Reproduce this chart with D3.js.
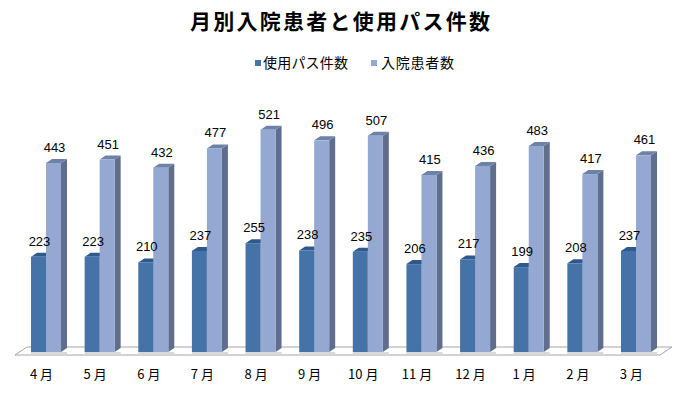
<!DOCTYPE html>
<html><head><meta charset="utf-8">
<script src="https://cdn.jsdelivr.net/npm/d3@7"></script>
<style>body{margin:0;background:#fff}svg{display:block}</style>
</head><body>
<svg id="c" width="682" height="393"></svg>
<script>
const categories = ["4月","5月","6月","7月","8月","9月","10月","11月","12月","1月","2月","3月"];
const seriesNames = ["使用パス件数","入院患者数"];
const pathCounts = [223,223,210,237,255,238,235,206,217,199,208,237];
const patientCounts = [443,451,432,477,521,496,507,415,436,483,417,461];
const title = "月別入院患者と使用パス件数";

const colors = {
  "使用パス件数": {front:"#4572a7", top:"#2f588b", side:"#34567f"},
  "入院患者数": {front:"#94a8d2", top:"#6e81a6", side:"#5f6e8c"}
};
const dx = 6, dy = -4;
const font = "'Noto Sans CJK JP', 'Liberation Sans', sans-serif";
const numFont = "'Liberation Sans', Arial, sans-serif";

const svg = d3.select("#c");
const x = d3.scaleBand().domain(categories).range([17, 665]).paddingInner(0.4403).paddingOuter(0.261);
const xs = d3.scaleBand().domain(seriesNames).range([0, x.bandwidth()]);
const y = d3.scaleLinear().domain([0, 600]).range([352, 96]);

// title
svg.append("text").attr("x", 190).attr("y", 29).attr("textLength", 300).attr("lengthAdjust", "spacing")
  .style("font-family", font).style("font-size", "21px").style("font-weight", "bold").attr("fill", "#000")
  .text(title);

// legend
const leg = [{n: seriesNames[0], x: 255, tx: 263, w: 85}, {n: seriesNames[1], x: 371, tx: 381, w: 73}];
leg.forEach(l => {
  svg.append("rect").attr("x", l.x).attr("y", 60).attr("width", 6).attr("height", 6).attr("fill", colors[l.n].front);
  svg.append("text").attr("x", l.tx).attr("y", 67.5).attr("textLength", l.w).attr("lengthAdjust", "spacing")
    .style("font-family", font).style("font-size", "14px").attr("fill", "#000").text(l.n);
});

// floor
const fx0 = 15, fx1 = 660, fy = 355;
svg.append("polygon")
  .attr("points", [[fx0, fy], [fx1, fy], [fx1 + 12, fy - 8], [fx0 + 12, fy - 8]].map(p => p.join(",")).join(" "))
  .attr("fill", "#fff").attr("stroke", "#a6a6a6").attr("stroke-width", 1);

const data = categories.map((c, i) => ({c, vals: [
  {s: seriesNames[0], v: pathCounts[i]},
  {s: seriesNames[1], v: patientCounts[i]}
]}));

const g = svg.append("g");
data.forEach(d => {
  // light floor shadow strip under the pair
  g.append("rect").attr("x", x(d.c)).attr("y", y(0)).attr("width", x.bandwidth() + dx).attr("height", 2.5).attr("fill", "#d9d9d9");
  d.vals.forEach(b => {
    const x0 = x(d.c) + xs(b.s), w = xs.bandwidth(), t = y(b.v), bot = y(0);
    const col = colors[b.s];
    g.append("polygon").attr("points", [[x0 + w, t], [x0 + w + dx, t + dy], [x0 + w + dx, bot + dy], [x0 + w, bot]].map(p => p.join(",")).join(" "))
      .attr("fill", col.side);
    g.append("polygon").attr("points", [[x0, t], [x0 + w, t], [x0 + w + dx, t + dy], [x0 + dx, t + dy]].map(p => p.join(",")).join(" "))
      .attr("fill", col.top);
    g.append("rect").attr("x", x0).attr("y", t).attr("width", w).attr("height", bot - t).attr("fill", col.front);
  });
});
// value labels
data.forEach(d => {
  d.vals.forEach(b => {
    const cx = x(d.c) + xs(b.s) + xs.bandwidth() / 2 + 1;
    svg.append("text").attr("x", cx).attr("y", y(b.v) - 11).attr("text-anchor", "middle")
      .style("font-family", numFont).style("font-size", "13px").attr("fill", "#000").text(b.v);
  });
});
// category labels (digits and 月 spaced as in the reference)
categories.forEach(c => {
  const t = svg.append("text").attr("x", x(c) + x.bandwidth() / 2 - 4.5).attr("y", 379).attr("text-anchor", "middle")
    .style("font-family", font).style("font-size", "13px").attr("fill", "#000");
  const num = c.replace("月", "");
  t.append("tspan").text(num);
  t.append("tspan").attr("dx", 3).text("月");
});
</script>
</body></html>
